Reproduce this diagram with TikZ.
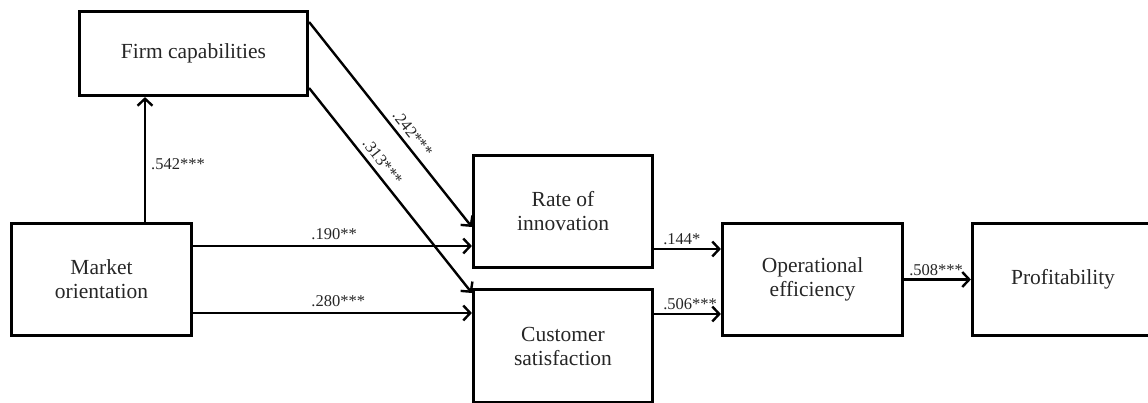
\documentclass[tikz,border=0pt]{standalone}
\usepackage{fontspec}
\setmainfont{Liberation Serif}
\usetikzlibrary{arrows.meta}
\begin{document}
\begin{tikzpicture}[x=1pt,y=-1pt,
  box/.style={draw, line width=3.2pt, align=center, inner sep=0pt,
    font=\fontsize{21.5}{24}\selectfont, text=black!85},
  arr/.style={line width=2.4pt, -{Straight Barb[length=7pt,width=15pt]}},
  lbl/.style={font=\fontsize{16.5}{18}\selectfont, text=black!85, inner sep=0pt}]
\path[use as bounding box] (0,0) rectangle (1148,403);
\clip (0,0) rectangle (1148,403);

% constructs
\node[box, minimum width=228pt, minimum height=84pt]  (fc) at (193.5,53.5)  {Firm capabilities};
\node[box, minimum width=180pt, minimum height=112pt] (mo) at (101.5,279.5) {Market\\orientation};
\node[box, minimum width=179pt, minimum height=112pt] (ri) at (563,211.5)   {Rate of\\innovation};
\node[box, minimum width=179pt, minimum height=113pt] (cs) at (563,346)     {Customer\\satisfaction};
\node[box, minimum width=180pt, minimum height=112pt] (oe) at (812.5,279.5) {Operational\\efficiency};
\node[box, minimum width=181pt, minimum height=112pt] (pf) at (1063,279.5)  {Profitability};

% paths with standardised coefficients
\draw[arr] ([xshift=43.5pt]mo.north) -- ([xshift=43.5pt]mo.north |- fc.south)
  node[lbl, pos=0.46, anchor=west, xshift=5pt] {.542***};

\draw[arr] ([yshift=33.5pt]mo.east) -- ([yshift=33.5pt]mo.east -| ri.west)
  node[lbl, pos=0.42, anchor=south west, yshift=5pt] {.190**};
\draw[arr] ([yshift=-33.5pt]mo.east) -- ([yshift=-33.5pt]mo.east -| cs.west)
  node[lbl, pos=0.42, anchor=south west, yshift=5pt] {.280***};

\draw[arr] ([yshift=31.5pt]fc.east) -- ([yshift=-15.5pt]ri.west)
  node[lbl, pos=0.58, sloped, above=5pt] {.242***};
\draw[arr] ([yshift=-34.5pt]fc.east) -- ([yshift=53pt]cs.west)
  node[lbl, pos=0.395, sloped, above=5pt] {.313***};

\draw[arr] ([yshift=-37.5pt]ri.east) -- ([yshift=-37.5pt]ri.east -| oe.west)
  node[lbl, pos=0.12, anchor=south west, yshift=3pt] {.144*};
\draw[arr] ([yshift=32pt]cs.east) -- ([yshift=32pt]cs.east -| oe.west)
  node[lbl, pos=0.12, anchor=south west, yshift=3pt] {.506***};

\draw[arr] (oe.east) -- (pf.west)
  node[lbl, pos=0.06, anchor=south west, yshift=3pt] {.508***};
\end{tikzpicture}
\end{document}
